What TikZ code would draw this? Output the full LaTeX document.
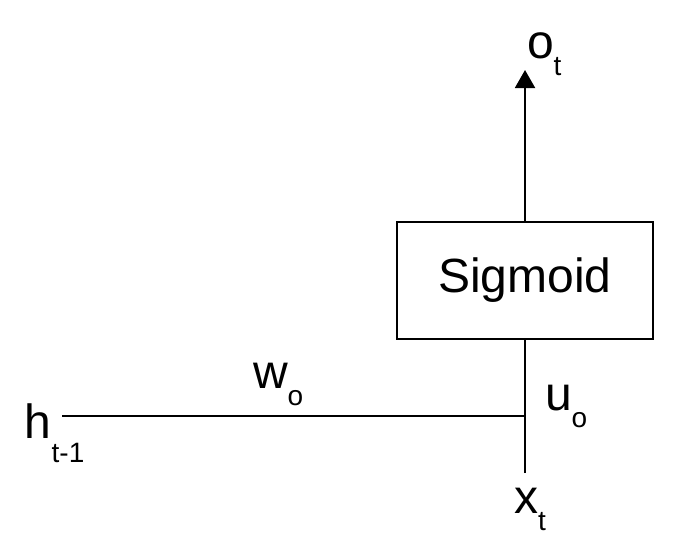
\documentclass[tikz,border=0pt]{standalone}
\usepackage{fontspec}
\setmainfont{Liberation Sans}
\usetikzlibrary{arrows.meta, positioning}
\newcommand{\lbl}[3][8.5pt]{#2\raisebox{-#1}{\fontsize{14}{14}\selectfont #3}}

\begin{document}
\begin{tikzpicture}[x=.5pt, y=-.5pt, line width=1pt,
    gatebox/.style={draw, minimum width=128pt, minimum height=58.5pt, inner sep=0pt, font=\fontsize{24}{24}\selectfont},
    lab/.style={anchor=base west, inner sep=0pt, font=\fontsize{24}{24}\selectfont}]
      \useasboundingbox (0,0) rectangle (679,552);
      \node[gatebox] (sig) at (525,280.5) {Sigmoid};
      \coordinate (hin) at (62,416);
      \coordinate (xin) at (sig.south |- 0,473);
      \coordinate (join) at (xin |- hin);
      \coordinate (out) at (sig.north |- 0,70);
      \draw (xin) -- (sig.south);
      \draw (hin) -- (join);
      \draw[-{Triangle[width=10pt, length=9pt]}] (sig.north) -- (out);
      \node[lab] (h) at (24,438) {\lbl[12pt]{h}{t-1}};
      \node[lab] (w) at (252,388) {\lbl{w}{o}};
      \node[lab] (u) at (544,410) {\lbl{u}{o}};
      \node[lab] (x) at (513,513) {\lbl{x}{t}};
      \node[lab] (o) at (526,58) {\lbl{o}{t}};
    \end{tikzpicture}
\end{document}
